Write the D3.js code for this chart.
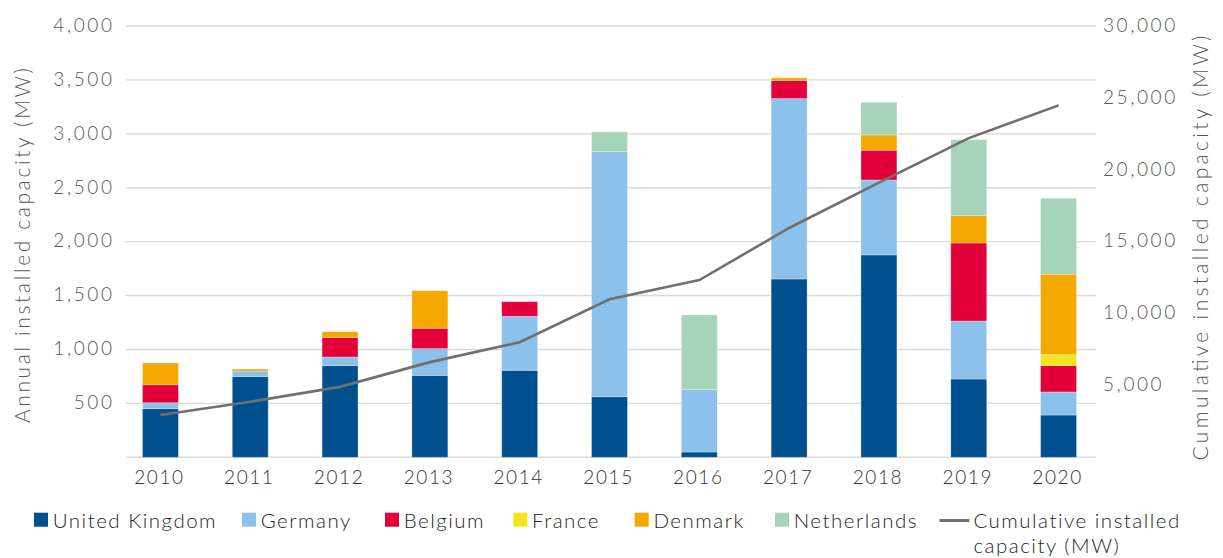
<!DOCTYPE html>
<html><head><meta charset="utf-8">
<script src="https://cdn.jsdelivr.net/npm/d3@7/dist/d3.min.js"></script>
<style>
body{margin:0;background:#fff;}
svg{display:block;font-family:"Lato",sans-serif;font-weight:300;}
</style></head>
<body><svg id="c" width="1223" height="558"></svg>
<script>
const years = ["2010","2011","2012","2013","2014","2015","2016","2017","2018","2019","2020"];
const seriesNames = ["United Kingdom","Germany","Belgium","France","Denmark","Netherlands"];
const seriesColors = ["#00508f","#8bc1ea","#e4003a","#f2e51c","#f5a800","#a6d4b8"];
const ukValues          = [451, 748, 850, 760, 807, 562,  49, 1654, 1877, 726, 392];
const germanyValues     = [ 55,  52,  80, 248, 501, 2273, 578, 1673, 695, 538, 214];
const belgiumValues     = [167,   0, 180, 189, 135,   0,   0,  167, 276, 724, 244];
const franceValues      = [  0,   0,   0,   0,   0,   0,   0,    0,   0,   0, 102];
const denmarkValues     = [202,  18,  55, 348,   0,   0,   0,   25, 142, 253, 746];
const netherlandsValues = [  0,   0,   0,   0,   0, 183, 693,    0, 303, 705, 705];
const cumulativeValues  = [2940, 3860, 4900, 6620, 8000, 10990, 12330, 15950, 19100, 22200, 24480];
const leftTicks  = [500,1000,1500,2000,2500,3000,3500,4000];
const rightTicks = [5000,10000,15000,20000,25000,30000];
const lineLabel = ["Cumulative installed","capacity (MW)"];

const svg = d3.select("#c");
const plotL = 126, plotR = 1096, plotT = 26, plotB = 457.3;
const x = d3.scaleBand().domain(years).range([124.5, 1094.5]).paddingInner(0.6).paddingOuter(0.2);
const y = d3.scaleLinear().domain([0,4000]).range([plotB, plotT]);
const y2 = d3.scaleLinear().domain([0,30000]).range([plotB, plotT]);

const allSeries = [ukValues, germanyValues, belgiumValues, franceValues, denmarkValues, netherlandsValues];
const table = years.map((yr,i)=>{ const o={year:yr}; seriesNames.forEach((s,j)=>o[s]=allSeries[j][i]); return o; });
const stacked = d3.stack().keys(seriesNames)(table);

// gridlines
svg.append("g").selectAll("line").data([0].concat(leftTicks)).join("line")
  .attr("x1",plotL).attr("x2",plotR)
  .attr("y1",d=>y(d)).attr("y2",d=>y(d))
  .attr("stroke","#d9d9d9").attr("stroke-width",1.4);

// bars
svg.append("g").selectAll("g").data(stacked).join("g")
  .attr("fill",(d,i)=>seriesColors[i])
  .selectAll("rect").data(d=>d.filter(p=>p[1]-p[0]>0)).join("rect")
  .attr("x",d=>x(d.data.year)).attr("width",x.bandwidth())
  .attr("y",d=>y(d[1])).attr("height",d=>y(d[0])-y(d[1]))
  .attr("stroke","#ffffff").attr("stroke-opacity",0.35).attr("stroke-width",0.8);

// line
const line = d3.line().x((d,i)=>x(years[i])+x.bandwidth()/2).y(d=>y2(d));
svg.append("path").datum(cumulativeValues).attr("d",line)
  .attr("fill","none").attr("stroke","#707070").attr("stroke-width",2.6);

const tickLS = 2.6;
// left axis
const axL = d3.axisLeft(y).tickValues(leftTicks).tickSize(0).tickPadding(0).tickFormat(d3.format(","));
const gL = svg.append("g").attr("transform",`translate(${112+tickLS},0)`).call(axL);
gL.select(".domain").remove();
gL.selectAll("text").attr("font-size",19).attr("fill","#595959").attr("font-family","Lato").attr("letter-spacing",tickLS).attr("dy","0.28em");

const axR = d3.axisRight(y2).tickValues(rightTicks).tickSize(0).tickPadding(0).tickFormat(d3.format(","));
const gR = svg.append("g").attr("transform",`translate(1103,0)`).call(axR);
gR.select(".domain").remove();
gR.selectAll("text").attr("font-size",19).attr("fill","#595959").attr("font-family","Lato").attr("letter-spacing",tickLS).attr("dy","0.28em");

const axB = d3.axisBottom(x).tickSize(0).tickPadding(0);
const gB = svg.append("g").attr("transform",`translate(-1,484)`).call(axB);
gB.select(".domain").remove();
gB.selectAll("text").attr("font-size",19).attr("fill","#333").attr("font-family","Lato").attr("letter-spacing",1.6).attr("dy","0");

// axis titles
svg.append("text").attr("transform","translate(30,245.5) rotate(-90)").attr("text-anchor","middle")
  .attr("font-size",21).attr("fill","#595959")
  .attr("textLength",355).attr("lengthAdjust","spacing").text("Annual installed capacity (MW)");
svg.append("text").attr("transform","translate(1208,248) rotate(-90)").attr("text-anchor","middle")
  .attr("font-size",21).attr("fill","#595959")
  .attr("textLength",425).attr("lengthAdjust","spacing").text("Cumulative installed capacity (MW)");

// legend
const legX = [34, 242, 385, 513.3, 634.7, 775];
const lg = svg.append("g");
seriesNames.forEach((s,i)=>{
  lg.append("rect").attr("x",legX[i]).attr("y",512.7).attr("width",14).attr("height",14).attr("fill",seriesColors[i]);
  lg.append("text").attr("x",legX[i]+18.7).attr("y",528).attr("font-size",20.5).attr("fill","#262626").attr("letter-spacing",1.5).text(s);
});
lg.append("line").attr("x1",939.5).attr("x2",969.4).attr("y1",520.5).attr("y2",520.5).attr("stroke","#707070").attr("stroke-width",3);
lineLabel.forEach((t,i)=>lg.append("text").attr("x",973.4).attr("y",528+i*24.5).attr("font-size",20.5).attr("fill","#262626").attr("letter-spacing",1.5).text(t));
</script></body></html>
